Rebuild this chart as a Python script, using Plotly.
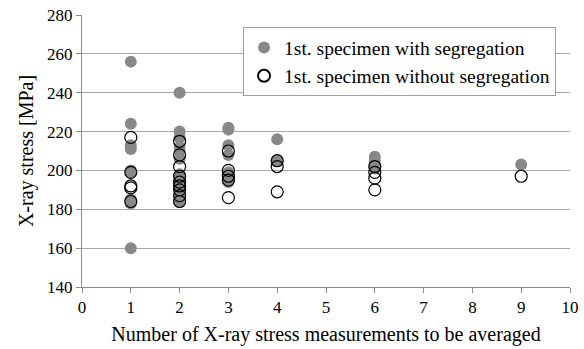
import plotly.graph_objects as go

# Number of measurements averaged (x) and resulting X-ray stress in MPa (y)
with_seg_x = [1]*9 + [2]*13 + [3]*7 + [4]*2 + [6]*4 + [9]
with_seg_y = [256, 224, 213, 211, 200, 199, 185, 183, 160,
              240, 220, 217, 212, 210, 206, 198, 195, 193, 191, 188, 185, 184,
              222, 221, 213, 208, 199, 196, 194,
              216, 205,
              207, 205, 202, 201,
              203]

without_seg_x = [1]*5 + [2]*9 + [3]*5 + [4]*3 + [6]*4 + [9]
without_seg_y = [217, 199, 192, 191, 184,
                 215, 208, 202, 197, 194, 192, 190, 187, 184,
                 210, 200, 197, 195, 186,
                 205, 202, 189,
                 202, 199, 196, 190,
                 197]

x_ticks = list(range(0, 11))
y_ticks = list(range(140, 281, 20))

serif = "Times New Roman, Liberation Serif, serif"
tick_font = dict(family=serif, size=17, color="black")
title_font = dict(family=serif, size=20, color="black")

fig = go.Figure()
fig.add_trace(go.Scatter(
    x=with_seg_x, y=with_seg_y, mode="markers",
    name="1st. specimen with segregation",
    marker=dict(size=12, color="#888888", line=dict(width=0)),
))
fig.add_trace(go.Scatter(
    x=without_seg_x, y=without_seg_y, mode="markers",
    name="1st. specimen without segregation",
    marker=dict(size=12, color="rgba(255,255,255,0)", line=dict(width=1.2, color="black")),
))

fig.update_layout(
    width=584, height=349,
    margin=dict(l=82, r=14, t=15, b=62, autoexpand=False),
    paper_bgcolor="white", plot_bgcolor="white",
    font=tick_font,
    showlegend=True,
    legend=dict(
        x=0.33, y=0.955, xanchor="left", yanchor="top",
        bgcolor="white", bordercolor="#a0a0a0", borderwidth=1,
        font=dict(family=serif, size=19.5, color="black"),
        itemsizing="constant", tracegroupgap=0, itemwidth=30,
    ),
    xaxis=dict(
        range=[0, 10], tickvals=x_ticks, ticktext=[str(v) for v in x_ticks],
        tickfont=tick_font, automargin=False,
        showgrid=False, zeroline=False,
        showline=True, linecolor="#8c8c8c", linewidth=1,
        ticks="outside", ticklen=5, tickcolor="#8c8c8c",
        title=dict(text="Number of X-ray stress measurements to be averaged",
                   font=title_font, standoff=10),
    ),
    yaxis=dict(
        range=[140, 280], tickvals=y_ticks,
        tickfont=tick_font, automargin=False,
        showgrid=True, gridcolor="#a6a6a6", gridwidth=1, zeroline=False,
        showline=True, linecolor="#8c8c8c", linewidth=1,
        ticks="outside", ticklen=5, tickcolor="#8c8c8c",
        title=dict(text="X-ray stress [MPa]", font=title_font, standoff=8),
    ),
)

fig.write_html("out.html")
